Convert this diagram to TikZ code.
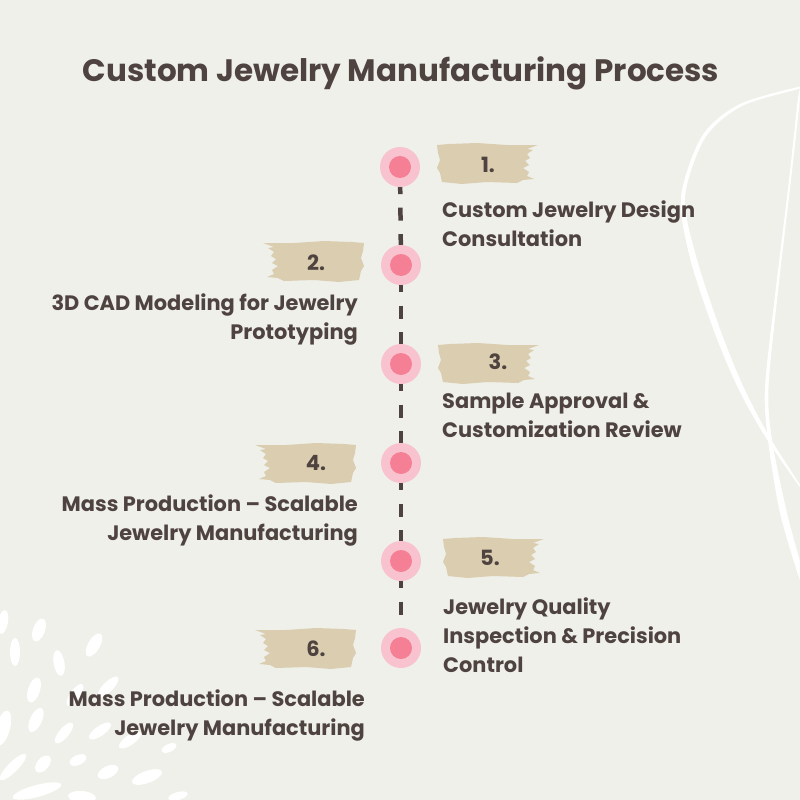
\documentclass[tikz,border=0pt]{standalone}
\usepackage{fontspec}
\setmainfont{Poppins}
\definecolor{paper}{HTML}{EFF0EA}
\definecolor{inkbrown}{HTML}{4F4340}
\definecolor{halo}{HTML}{F8C3CE}
\definecolor{core}{HTML}{F57F95}
\definecolor{swatch}{HTML}{DACDB0}
\tikzset{
  halodot/.style={circle, fill=halo, minimum size=40pt, inner sep=0pt},
  coredot/.style={circle, fill=core, minimum size=22pt, inner sep=0pt},
  dashlink/.style={draw=inkbrown, line width=4.5pt, dash pattern=on 13pt off 13.5pt, dash phase=6pt},
  numlabel/.style={text=inkbrown, font=\fontsize{21}{21}\selectfont\bfseries},
  leftnote/.style={text=inkbrown, font=\fontsize{20.9}{29}\selectfont\bfseries, align=left, anchor=north west, inner sep=0pt},
  rightnote/.style={text=inkbrown, font=\fontsize{20.9}{29}\selectfont\bfseries, align=right, anchor=north east, inner sep=0pt},
  brush/.pic={\fill[swatch] (0,2) -- (12,1) -- (40,0) -- (70,2) -- (101,2) -- (90,6) -- (96,7) -- (90,11) -- (93,15) -- (88,18) -- (92,22) -- (86,25) -- (92,29) -- (90,33) -- (97,36) -- (86,37) -- (80,40) -- (50,39) -- (25,41) -- (5,39) -- (3,30) -- (0,25) -- (3,17) -- (1,10) -- cycle;}
}
\begin{document}
\begin{tikzpicture}[x=1pt, y=-1pt]
\useasboundingbox (0,0) rectangle (800,800);
\fill[paper] (0,0) rectangle (800,800);
\begin{scope}
  \clip (0,0) rectangle (800,800);
  % specks
  \foreach \px/\py/\ra/\rb/\ang in {3/622/12/5/80, 39/630/12/6/70, 15/652/14/5/90, 59/663/13/5.5/100, 94/645/13/6/60, 34/690/13/6/72, 36/720/13/6/65, 3/728/18/7/75, 64/733/13/5/50, 108/687/14/5/45, 75/695/13/5/55, 100/731/13/5/35, 130/740/13/5/35, 169/748/8/4/25, 43/764/10/6/50, 78/760/9/5/25, 13/767/18/5/45, 108/772/11/6/25, 147/777/16/6/20, 37/791/25/6/15, 82/797/14/6/-5, 178/796/10/4/15}
    \fill[white] (\px,\py) ellipse [x radius=\ra, y radius=\rb, rotate=\ang];
  % big loop
  \fill[white] plot[smooth cycle] coordinates {(802,86) (740,104) (702,136) (681,197) (690,258) (714,331) (738,388) (766,438) (802,490) (802,488) (769,436) (743,386) (720,329) (696,256) (685,197) (705,138) (742,106) (802,88)};
  % thin line
  \fill[white] plot[smooth cycle] coordinates {(798,98) (789,180) (776,287) (765,387) (768,440) (780,513) (800,580) (802,570) (787,513) (772,440) (768.5,387) (778.5,287) (791,180) (800,98)};
\end{scope}
\node[font=\fontsize{31}{31}\selectfont\bfseries, text=inkbrown] (title) at (401,73) {Custom Jewelry Manufacturing Process};
% dots
\node[halodot] (halo1) at (400,167) {};
\node[halodot] (halo2) at (401,265) {};
\node[halodot] (halo3) at (401,364) {};
\node[halodot] (halo4) at (401,463) {};
\node[halodot] (halo5) at (401,561) {};
\node[halodot] (halo6) at (401,648) {};
\foreach \a/\b in {1/2, 2/3, 3/4, 4/5, 5/6}
  \draw[dashlink] (halo\a) -- (halo\b);
\foreach \n in {1,...,6}
  \node[coredot] (core\n) at (halo\n) {};
% swatches
\pic at (437,143) {brush};
\pic[xscale=-1] at (364,241) {brush};
\pic at (438,343) {brush};
\pic[xscale=-1] at (356,443) {brush};
\pic at (443,537) {brush};
\pic[xscale=-1] at (356,628) {brush};
\node[numlabel] (num1) at (488,165) {1.};
\node[numlabel] (num2) at (316,263) {2.};
\node[numlabel] (num3) at (498,362) {3.};
\node[numlabel] (num4) at (316,463) {4.};
\node[numlabel] (num5) at (490,558) {5.};
\node[numlabel] (num6) at (316,649) {6.};
% notes
\node[leftnote] (note1) at (442,201) {Custom Jewelry Design\\Consultation};
\node[rightnote] (note2) at (358,294) {3D CAD Modeling for Jewelry\\Prototyping};
\node[leftnote] (note3) at (442,393) {Sample Approval \&\\Customization Review};
\node[rightnote] (note4) at (358,495) {Mass Production – Scalable\\Jewelry Manufacturing};
\node[leftnote] (note5) at (443,598) {Jewelry Quality\\Inspection \& Precision\\Control};
\node[rightnote] (note6) at (365,690) {Mass Production – Scalable\\Jewelry Manufacturing};
\end{tikzpicture}
\end{document}
